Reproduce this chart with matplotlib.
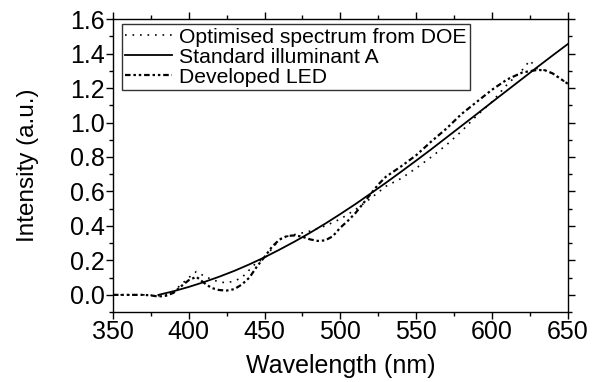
import matplotlib
matplotlib.use("Agg")
import matplotlib.pyplot as plt
import numpy as np
from matplotlib.ticker import MultipleLocator

plt.rcParams['font.family'] = ['Liberation Sans', 'DejaVu Sans']

# Standard illuminant A (normalised, offset)
wl_a = [380, 390, 400, 410, 420, 430, 440, 450, 460, 470, 480, 490, 500, 510,
        520, 530, 540, 550, 560, 570, 580, 590, 600, 610, 620, 630, 640, 650]
int_a = [0.0, 0.021, 0.046, 0.074, 0.105, 0.139, 0.177, 0.218, 0.263, 0.310,
         0.360, 0.413, 0.469, 0.527, 0.588, 0.650, 0.714, 0.779, 0.845, 0.913,
         0.981, 1.049, 1.118, 1.186, 1.254, 1.322, 1.389, 1.455]

# Developed LED
wl_led = [350, 360, 370, 375, 380, 385, 390, 395, 400, 405, 410, 415, 420, 425,
          430, 435, 440, 445, 450, 455, 460, 465, 470, 475, 480, 485, 490, 495,
          500, 505, 510, 515, 520, 525, 530, 540, 550, 560, 570, 580, 590, 600,
          610, 620, 625, 630, 635, 640, 645, 650]
int_led = [0.0, 0.0, 0.0, -0.003, -0.01, -0.005, 0.012, 0.05, 0.085, 0.105,
           0.07, 0.04, 0.028, 0.025, 0.033, 0.06, 0.10, 0.165, 0.22, 0.28,
           0.322, 0.342, 0.345, 0.337, 0.322, 0.313, 0.316, 0.34, 0.39, 0.43,
           0.475, 0.53, 0.585, 0.64, 0.685, 0.745, 0.81, 0.89, 0.965, 1.05,
           1.12, 1.19, 1.25, 1.29, 1.298, 1.305, 1.303, 1.285, 1.255, 1.225]

# Optimised spectrum from DOE
wl_opt = [350, 360, 370, 380, 385, 390, 395, 400, 405, 410, 415, 420, 425, 430,
          435, 440, 445, 450, 455, 460, 465, 470, 475, 480, 490, 500, 510, 520,
          530, 540, 550, 560, 570, 580, 590, 600, 610, 620, 625, 630, 635, 640,
          645, 650]
int_opt = [0.0, 0.0, 0.0, -0.005, 0.0, 0.02, 0.06, 0.10, 0.135, 0.11, 0.09,
           0.075, 0.07, 0.08, 0.10, 0.145, 0.19, 0.21, 0.27, 0.32, 0.34, 0.35,
           0.36, 0.37, 0.40, 0.44, 0.495, 0.56, 0.63, 0.675, 0.735, 0.80,
           0.87, 0.95, 1.04, 1.12, 1.22, 1.305, 1.36, 1.31, 1.303, 1.285,
           1.255, 1.225]

fig = plt.figure(figsize=(6.04, 3.82), dpi=100)
ax = fig.add_axes([0.187, 0.183, 0.753, 0.767])

ax.plot(wl_opt, int_opt, color='black', lw=1.2, linestyle=(0, (1, 3.5)),
        label='Optimised spectrum from DOE')
ax.plot(wl_a, int_a, color='black', lw=1.3, linestyle='-',
        label='Standard illuminant A')
ax.plot(wl_led, int_led, color='black', lw=1.6,
        linestyle=(0, (2.5, 1.3, 1.1, 1.3, 1.1, 1.3)),
        label='Developed LED')

ax.set_xlim(350, 650)
ax.set_ylim(-0.1, 1.6)
ax.xaxis.set_major_locator(MultipleLocator(50))
ax.xaxis.set_minor_locator(MultipleLocator(25))
ax.yaxis.set_major_locator(MultipleLocator(0.2))
ax.yaxis.set_minor_locator(MultipleLocator(0.1))
ax.yaxis.set_major_formatter(matplotlib.ticker.FormatStrFormatter('%.1f'))

ax.tick_params(axis='both', which='major', direction='out', length=5,
               width=1, labelsize=18, pad=1)
ax.tick_params(axis='both', which='minor', direction='out', length=3,
               width=1)
ax.tick_params(axis='both', which='both', top=True, right=True)
for s in ax.spines.values():
    s.set_linewidth(1)

ax.set_xlabel('Wavelength (nm)', fontsize=18, labelpad=7)
ax.set_ylabel('Intensity (a.u.)', fontsize=17.5, labelpad=22)

leg = ax.legend(loc='upper left', bbox_to_anchor=(0.02, 0.982), fontsize=15.2,
                frameon=True, fancybox=False, edgecolor='black',
                borderpad=0.15, labelspacing=0.05, handlelength=2.2,
                handletextpad=0.35, borderaxespad=0)
leg.get_frame().set_linewidth(1)

fig.savefig('out.png', dpi=100)
